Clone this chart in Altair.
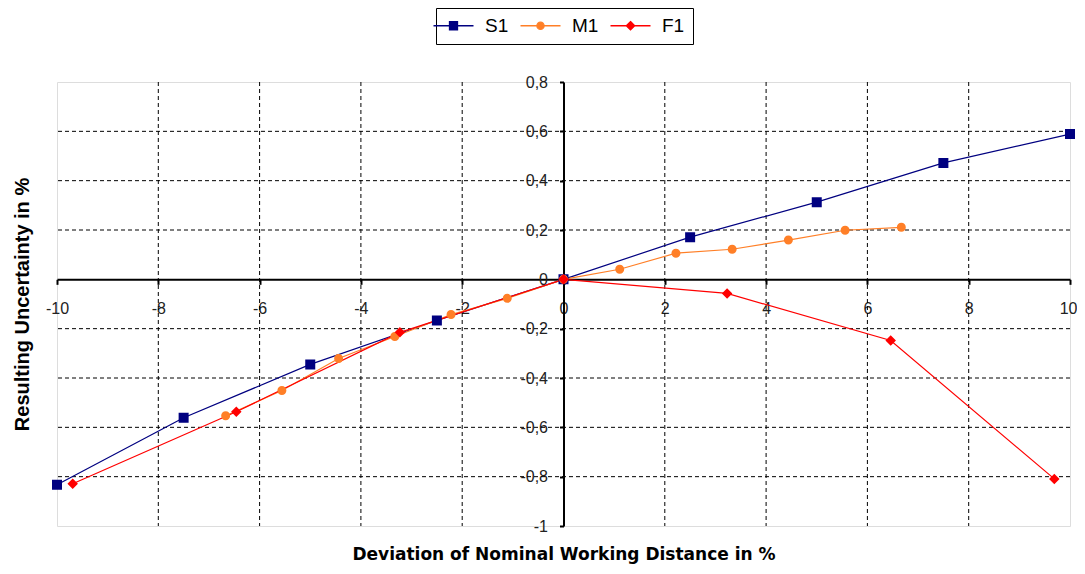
import altair as alt
import pandas as pd

series_names = ["S1", "M1", "F1"]
series_colors = ["#000080", "#FF7F27", "#FF0000"]

s1_x = [-10, -7.5, -5, -2.5, 0, 2.5, 5, 7.5, 10]
s1_y = [-0.833, -0.561, -0.345, -0.167, 0, 0.171, 0.313, 0.472, 0.589]
m1_x = [-6.67, -5.56, -4.44, -3.33, -2.22, -1.11, 0, 1.11, 2.22, 3.33, 4.44, 5.56, 6.67]
m1_y = [-0.553, -0.451, -0.321, -0.232, -0.143, -0.077, 0, 0.041, 0.106, 0.122, 0.159, 0.199, 0.211]
f1_x = [-9.69, -6.46, -3.23, 0, 3.23, 6.46, 9.69]
f1_y = [-0.829, -0.537, -0.215, 0, -0.057, -0.248, -0.809]

x_tick_values = [-10, -8, -6, -4, -2, 0, 2, 4, 6, 8, 10]
y_tick_values = [-1, -0.8, -0.6, -0.4, -0.2, 0, 0.2, 0.4, 0.6, 0.8]
x_grid_values = [-8, -6, -4, -2, 2, 4, 6, 8]
y_grid_values = [-0.8, -0.6, -0.4, -0.2, 0.2, 0.4, 0.6]

# legend/marker symbols: horizontal line segment + marker
symbol_paths = [
    "M-5,0H5M-1,-1H1V1H-1Z",
    "M-5,0H5M0.9,0A0.9,0.9 0 1,1 -0.9,0A0.9,0.9 0 1,1 0.9,0Z",
    "M-5,0H5M0,-1.05L1.05,0L0,1.05L-1.05,0Z",
]

rows = []
for name, xs, ys in [("S1", s1_x, s1_y), ("M1", m1_x, m1_y), ("F1", f1_x, f1_y)]:
    for xv, yv in zip(xs, ys):
        rows.append({"series": name, "x": xv, "y": yv, "rank": series_names.index(name)})
df = pd.DataFrame(rows)
gx = pd.DataFrame({"x": x_grid_values})
gy = pd.DataFrame({"y": y_grid_values})

W, H = 1013, 444
xdom = [-10, 10]
ydom = [-1, 0.8]
x_off = -H * (0 - ydom[0]) / (ydom[1] - ydom[0])
y_off = -W * (0 - xdom[0]) / (xdom[1] - xdom[0])
zero_y = 82 + H * ydom[1] / (ydom[1] - ydom[0])
zero_x = 57 + W * (-xdom[0]) / (xdom[1] - xdom[0])

x_scale = alt.Scale(domain=xdom, nice=False, zero=False)
y_scale = alt.Scale(domain=ydom, nice=False, zero=False)

last_x = x_tick_values[-1]
x_axis = alt.Axis(
    values=x_tick_values, orient="bottom", offset=x_off, grid=False,
    domainColor="black", domainWidth=2, tickColor="black", tickWidth=2, tickSize=5,
    labelPadding=16, labelFlush=False, labelOverlap=False,
    labelAlign={"condition": {"test": f"datum.value == {last_x}", "value": "right"}, "value": "center"},
    labelOffset={"condition": {"test": f"datum.value == {last_x}", "value": 7}, "value": 0},
    labelExpr="toString(datum.value)", labelFont="Liberation Sans", labelFontSize=16,
    labelColor="#222222", labelBaseline="top",
    title="Deviation of Nominal Working Distance in %", titleFont="DejaVu Sans",
    titleFontSize=17, titleFontWeight="bold", titleColor="black",
    titleBaseline="middle", titleY=554 - zero_y,
)
y_axis = alt.Axis(
    values=y_tick_values, orient="left", offset=y_off, grid=False,
    domainColor="black", domainWidth=2, tickColor="black", tickWidth=2, tickSize=4,
    labelPadding=12, labelFlush=False, labelOverlap=False,
    labelExpr="replace(toString(round(datum.value*10)/10), '.', ',')",
    labelFont="Liberation Sans", labelFontSize=16, labelColor="#222222",
    title="Resulting Uncertainty in %", titleFont="Liberation Sans",
    titleFontSize=20, titleFontWeight="bold", titleColor="black",
    titleBaseline="middle", titleX=22 - zero_x,
)

X = alt.X("x:Q", scale=x_scale, axis=x_axis)
Y = alt.Y("y:Q", scale=y_scale, axis=y_axis)

grid_x = alt.Chart(gx).mark_rule(color="black", strokeWidth=1, strokeDash=[4, 3]).encode(x=X)
grid_y = alt.Chart(gy).mark_rule(color="black", strokeWidth=1, strokeDash=[4, 3]).encode(y=Y)

lines = []
for name, col in zip(series_names, series_colors):
    lines.append(
        alt.Chart(df).transform_filter(alt.datum.series == name)
        .mark_line(color=col, strokeWidth=1.2)
        .encode(x=X, y=Y)
    )

legend = alt.Legend(
    title=None, orient="none", legendX=379, legendY=-74, direction="horizontal",
    symbolSize=64, symbolStrokeWidth=1.3, labelFont="Liberation Sans", labelFontSize=19,
    labelColor="black", labelOffset=22, columnPadding=8, strokeColor="black",
    fillColor="white", padding=8,
)

points = alt.Chart(df).mark_point(filled=True, size=100, strokeWidth=0, opacity=1).encode(
    x=X, y=Y,
    fill=alt.Fill("series:N", scale=alt.Scale(domain=series_names, range=series_colors), legend=legend),
    stroke=alt.Stroke("series:N", scale=alt.Scale(domain=series_names, range=series_colors), legend=legend),
    shape=alt.Shape("series:N", scale=alt.Scale(domain=series_names, range=symbol_paths), legend=legend),
    order=alt.Order("rank:Q"),
)

chart = alt.layer(grid_x, grid_y, *lines, points).properties(
    width=W, height=H, autosize="none",
    padding={"left": 49, "top": 74, "right": 7, "bottom": 40},
).configure_view(stroke="#a0a0a0", strokeWidth=1.5).configure(background="white")

chart.save("out.html", embed_options={"renderer": "svg", "actions": False})
